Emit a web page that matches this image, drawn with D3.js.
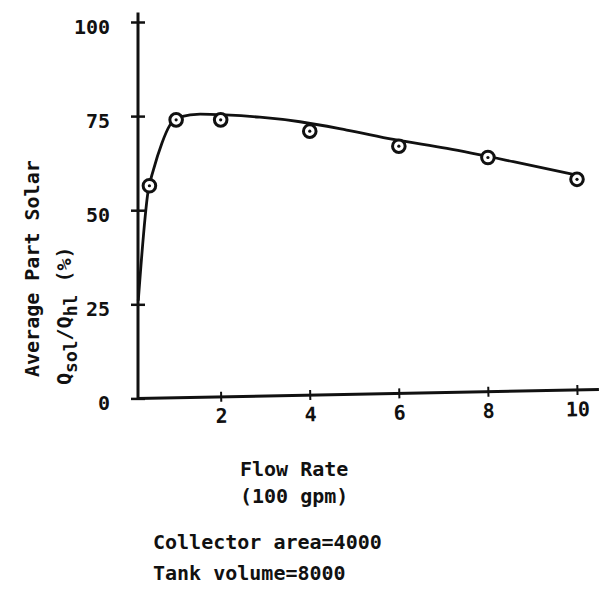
<!DOCTYPE html>
<html>
<head>
<meta charset="utf-8">
<script src="https://cdn.jsdelivr.net/npm/d3@7"></script>
<style>
  body { margin: 0; background: #fff; }
  text { font-family: "DejaVu Sans Mono", monospace; font-weight: bold; fill: #111; }
</style>
</head>
<body>
<div id="chart"></div>
<script>
// measured points (circles)
var flowRate = [0.4, 1, 2, 4, 6, 8, 10];
var partSolar = [56.5, 74, 74, 71, 67, 64, 58.2];

// hand drawn curve through the points
var curveFlow = [0.15, 0.37, 0.49, 0.68, 0.86, 1.09, 1.54, 2.1, 2.88, 3.78, 4.83, 5.88, 7.08, 8.57, 10.05];
var curveSolar = [26, 55, 60.7, 67.8, 72.6, 74.8, 75.5, 75.3, 74.7, 73.5, 71.3, 68.8, 66.4, 62.9, 59.2];

var xTicks = [2, 4, 6, 8, 10];
var yTicks = [0, 25, 50, 75, 100];
var notes = ['Collector area=4000', 'Tank volume=8000'];

var width = 601, height = 592;
var axisX = 138;

var x = d3.scaleLinear().domain([0, 10]).range([131.6, 577]);
var y = d3.scaleLinear().domain([0, 100]).range([398.4, 22]);

var svg = d3.select('#chart').append('svg')
  .attr('width', width)
  .attr('height', height)
  .style('background', '#fff');

// y axis
var yAxis = svg.append('g')
  .attr('transform', 'translate(' + axisX + ',0)')
  .call(d3.axisLeft(y).tickValues(yTicks).tickSize(0).tickPadding(28));
yAxis.select('.domain').remove();
yAxis.selectAll('.tick line')
  .attr('x1', -7).attr('x2', 7)
  .attr('stroke', '#111').attr('stroke-width', 2.5);
yAxis.selectAll('.tick text')
  .attr('dy', '0.55em')
  .style('font-size', '20px')
  .style('font-family', '"DejaVu Sans Mono", monospace');
yAxis.append('line')
  .attr('x1', 0).attr('x2', 0)
  .attr('y1', y(0) + 1).attr('y2', y(102.5))
  .attr('stroke', '#111').attr('stroke-width', 3);

// x axis, slightly tilted like the scan
var xAxis = svg.append('g')
  .attr('transform', 'rotate(-1.1,' + axisX + ',' + y(0) + ') translate(0,' + y(0) + ')')
  .call(d3.axisBottom(x).tickValues(xTicks).tickSize(0).tickPadding(12));
xAxis.select('.domain').remove();
xAxis.selectAll('.tick line')
  .attr('y1', -5).attr('y2', 5)
  .attr('stroke', '#111').attr('stroke-width', 2);
xAxis.selectAll('.tick text')
  .style('font-size', '20px')
  .style('font-family', '"DejaVu Sans Mono", monospace');
xAxis.append('line')
  .attr('x1', axisX - 1).attr('x2', 599)
  .attr('y1', 0).attr('y2', 0)
  .attr('stroke', '#111').attr('stroke-width', 3);

// curve
var line = d3.line()
  .x(function(d, i) { return x(curveFlow[i]); })
  .y(function(d) { return y(d); })
  .curve(d3.curveMonotoneX);
svg.append('path')
  .datum(curveSolar)
  .attr('d', line)
  .attr('fill', 'none')
  .attr('stroke', '#111')
  .attr('stroke-width', 2.8);

// point markers
var pts = svg.append('g').selectAll('g')
  .data(partSolar)
  .enter().append('g')
  .attr('transform', function(d, i) { return 'translate(' + x(flowRate[i]) + ',' + y(d) + ')'; });
pts.append('circle')
  .attr('r', 6.3)
  .attr('fill', '#fff')
  .attr('stroke', '#111')
  .attr('stroke-width', 3);
pts.append('circle')
  .attr('r', 1.6)
  .attr('fill', '#111');

// y title
var yt = svg.append('g').attr('transform', 'rotate(-90)');
yt.append('text')
  .attr('x', -377).attr('y', 39)
  .style('font-size', '20px')
  .text('Average Part Solar');
var q = yt.append('text')
  .attr('x', -385).attr('y', 71)
  .style('font-size', '20px');
q.append('tspan').text('Q');
q.append('tspan').attr('dy', 6).style('font-size', '18px').text('sol');
q.append('tspan').attr('dy', -6).text('/Q');
q.append('tspan').attr('dy', 6).style('font-size', '18px').text('hl');
q.append('tspan').attr('dy', -6).text(' (%)');

// x title and notes
svg.append('text')
  .attr('x', 240).attr('y', 476)
  .style('font-size', '20px')
  .text('Flow Rate');
svg.append('text')
  .attr('x', 240).attr('y', 503)
  .style('font-size', '20px')
  .text('(100 gpm)');
svg.selectAll('.note')
  .data(notes)
  .enter().append('text')
  .attr('class', 'note')
  .attr('x', 153)
  .attr('y', function(d, i) { return 549 + i * 31; })
  .style('font-size', '20px')
  .text(function(d) { return d; });
</script>
</body>
</html>
